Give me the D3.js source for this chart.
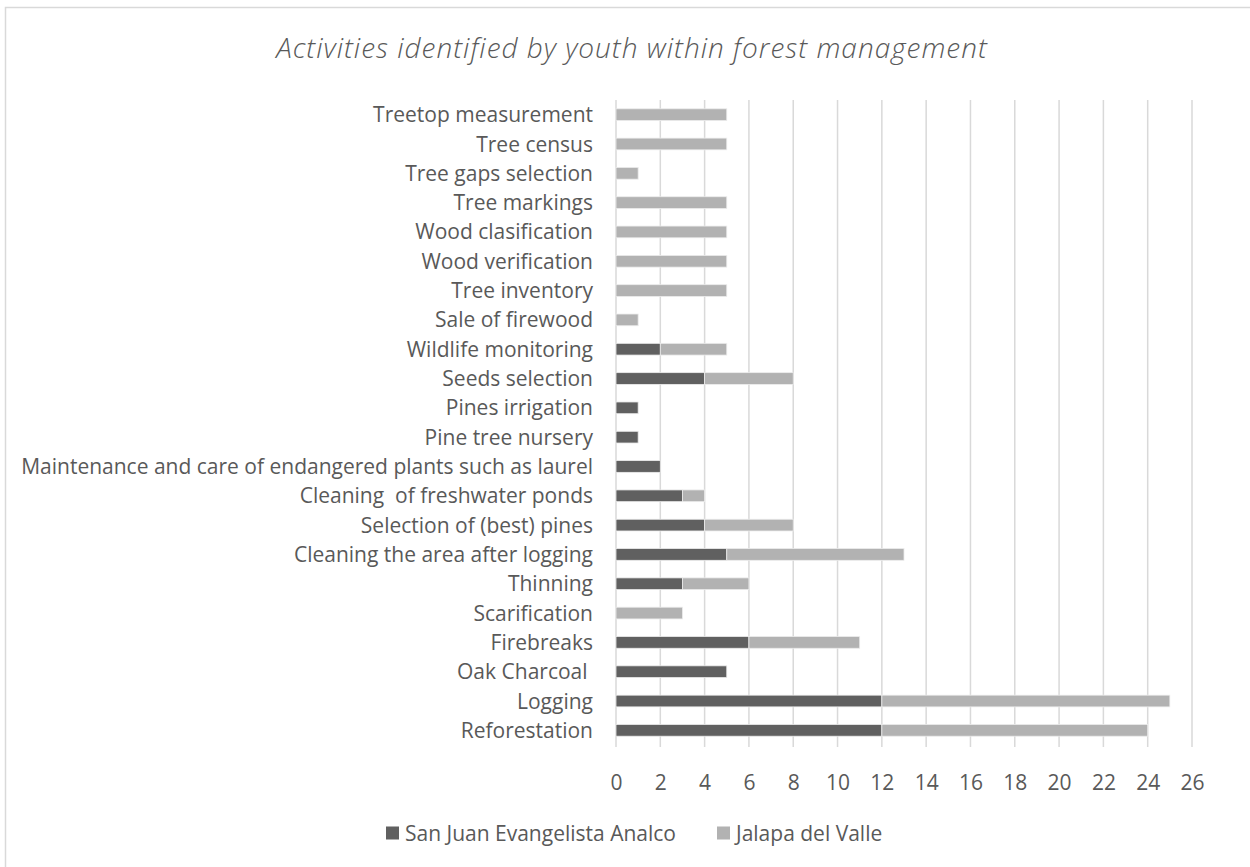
<!DOCTYPE html>
<html>
<head>
<meta charset="utf-8">
<script src="https://cdn.jsdelivr.net/npm/d3@7"></script>
<style>
  html, body { margin: 0; padding: 0; background: #fff; }
  svg { display: block; }
  text { font-family: "Open Sans", "Noto Sans", sans-serif; fill: #595959; }
</style>
</head>
<body>
<svg id="chart" width="1250" height="867"></svg>
<script>
// Activities listed top to bottom
const categories = [
  "Treetop measurement",
  "Tree census",
  "Tree gaps selection",
  "Tree markings",
  "Wood clasification",
  "Wood verification",
  "Tree inventory",
  "Sale of firewood",
  "Wildlife monitoring",
  "Seeds selection",
  "Pines irrigation",
  "Pine tree nursery",
  "Maintenance and care of endangered plants such as laurel",
  "Cleaning  of freshwater ponds",
  "Selection of (best) pines",
  "Cleaning the area after logging",
  "Thinning",
  "Scarification",
  "Firebreaks",
  "Oak Charcoal ",
  "Logging",
  "Reforestation"
];
const sanJuan = [0, 0, 0, 0, 0, 0, 0, 0, 2, 4, 1, 1, 2, 3, 4, 5, 3, 0, 6, 5, 12, 12];
const jalapa  = [5, 5, 1, 5, 5, 5, 5, 1, 3, 4, 0, 0, 0, 1, 4, 8, 3, 3, 5, 0, 13, 12];
const seriesNames = ["San Juan Evangelista Analco", "Jalapa del Valle"];
const seriesColors = ["#606060", "#b2b2b2"];
const xTicks = d3.range(0, 27, 2);
const title = "Activities identified by youth within forest management";

const svg = d3.select("#chart");

// chart frame
svg.append("rect")
  .attr("x", 5.5).attr("y", 7.5)
  .attr("width", 1260).attr("height", 880)
  .attr("fill", "none").attr("stroke", "#d9d9d9").attr("stroke-width", 1.5);

const plot = { left: 616, right: 1192, top: 100, bottom: 745 };

const x = d3.scaleLinear().domain([0, 26]).range([plot.left, plot.right]);
const y = d3.scaleBand().domain(categories).range([plot.top, plot.bottom])
  .paddingInner(0.6).paddingOuter(0.3);

// vertical gridlines
svg.append("g").selectAll("line").data(xTicks).join("line")
  .attr("x1", d => x(d)).attr("x2", d => x(d))
  .attr("y1", plot.top).attr("y2", plot.bottom + 2)
  .attr("stroke", "#d9d9d9").attr("stroke-width", 1.5);

// stacked bars
const rows = categories.map((c, i) => ({ cat: c, vals: [sanJuan[i], jalapa[i]] }));
const stack = d3.stack().keys([0, 1]).value((d, k) => d.vals[k]);
const layers = stack(rows);

svg.append("g").selectAll("g").data(layers).join("g")
  .attr("fill", (d, i) => seriesColors[i])
  .selectAll("rect").data(d => d.filter(p => p[1] > p[0])).join("rect")
  .attr("x", d => x(d[0]))
  .attr("width", d => x(d[1]) - x(d[0]))
  .attr("y", d => y(d.data.cat))
  .attr("height", y.bandwidth())
  .attr("stroke", "#ececec").attr("stroke-width", 0.8);

const labelFont = "'Open Sans', 'Noto Sans', sans-serif";

// category axis labels
const yAxis = d3.axisLeft(y).tickSize(0).tickPadding(23);
const yg = svg.append("g").attr("transform", `translate(${plot.left},0)`).call(yAxis);
yg.select(".domain").remove();
yg.selectAll("text")
  .style("font-family", labelFont)
  .style("font-size", "21px")
  .style("fill", "#595959")
  .style("white-space", "pre")
  .attr("dy", "0.36em");

// value axis labels
const xAxis = d3.axisBottom(x).tickValues(xTicks).tickSize(0).tickPadding(30);
const xg = svg.append("g").attr("transform", `translate(0,${plot.bottom})`).call(xAxis);
xg.select(".domain").remove();
xg.selectAll("text")
  .style("font-family", labelFont)
  .style("font-size", "21px")
  .style("fill", "#595959");

// title
svg.append("text")
  .attr("x", 632).attr("y", 58)
  .attr("text-anchor", "middle")
  .style("font-size", "28px")
  .style("font-style", "italic")
  .style("font-weight", 300)
  .style("letter-spacing", "1px")
  .text(title);

// legend
const legendItems = [
  { name: seriesNames[0], color: seriesColors[0], x: 386 },
  { name: seriesNames[1], color: seriesColors[1], x: 717 }
];
const lg = svg.append("g").selectAll("g").data(legendItems).join("g")
  .attr("transform", d => `translate(${d.x},833)`);
lg.append("rect").attr("x", 0).attr("y", -6.5).attr("width", 13).attr("height", 13)
  .attr("fill", d => d.color);
lg.append("text").attr("x", 19).attr("dy", "0.36em")
  .style("font-size", "21px")
  .text(d => d.name);
</script>
</body>
</html>
